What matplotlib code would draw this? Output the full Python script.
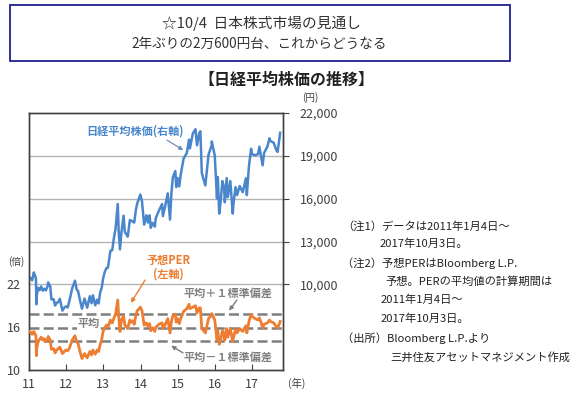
import pandas as pd
import matplotlib
matplotlib.use("Agg")
import matplotlib.pyplot as plt
from matplotlib.patches import Rectangle

plt.rcParams['font.family'] = ['Noto Sans CJK JP', 'DejaVu Sans']

# Nikkei 225 (right axis, yen)
nk_dates = [
    "2011-01-04", "2011-01-20", "2011-02-01", "2011-02-17", "2011-03-01", "2011-03-10",
    "2011-03-15", "2011-03-18", "2011-03-31", "2011-04-15", "2011-04-30", "2011-05-16",
    "2011-05-31", "2011-06-15", "2011-06-30", "2011-07-08", "2011-07-29", "2011-08-09",
    "2011-08-31", "2011-09-14", "2011-09-30", "2011-10-14", "2011-10-31", "2011-11-25",
    "2011-12-15", "2011-12-30", "2012-01-16", "2012-01-31", "2012-02-15", "2012-02-29",
    "2012-03-27", "2012-04-13", "2012-04-27", "2012-05-15", "2012-06-04", "2012-06-29",
    "2012-07-25", "2012-08-20", "2012-09-06", "2012-09-19", "2012-10-12", "2012-10-31",
    "2012-11-14", "2012-11-30", "2012-12-14", "2012-12-28", "2013-01-15", "2013-01-31",
    "2013-02-15", "2013-03-11", "2013-03-29", "2013-04-15", "2013-04-30", "2013-05-22",
    "2013-05-31", "2013-06-13", "2013-06-28", "2013-07-18", "2013-07-31", "2013-08-28",
    "2013-09-18", "2013-09-30", "2013-10-15", "2013-10-31", "2013-11-15", "2013-11-29",
    "2013-12-30", "2014-01-15", "2014-02-05", "2014-02-28", "2014-03-14", "2014-03-31",
    "2014-04-11", "2014-04-30", "2014-05-21", "2014-05-30", "2014-06-30", "2014-07-31",
    "2014-08-08", "2014-08-29", "2014-09-25", "2014-10-17", "2014-10-31", "2014-11-14",
    "2014-12-08", "2014-12-17", "2014-12-30", "2015-01-16", "2015-01-30", "2015-02-27",
    "2015-03-31", "2015-04-22", "2015-04-30", "2015-05-29", "2015-06-24", "2015-07-09",
    "2015-07-31", "2015-08-11", "2015-08-25", "2015-09-08", "2015-09-29", "2015-10-30",
    "2015-11-30", "2015-12-01", "2015-12-30", "2016-01-21", "2016-01-29", "2016-02-12",
    "2016-02-29", "2016-03-14", "2016-03-31", "2016-04-07", "2016-04-25", "2016-05-06",
    "2016-05-31", "2016-06-24", "2016-06-30", "2016-07-21", "2016-08-05", "2016-08-31",
    "2016-09-30", "2016-10-31", "2016-11-09", "2016-11-30", "2016-12-21", "2016-12-30",
    "2017-01-31", "2017-02-28", "2017-03-13", "2017-03-31", "2017-04-14", "2017-04-28",
    "2017-05-31", "2017-06-20", "2017-06-30", "2017-07-31", "2017-08-29", "2017-09-08",
    "2017-09-29", "2017-10-03",
]
nk_values = [
    10398, 10437, 10275, 10836, 10624, 10434,
    8605, 9207, 9755, 9591, 9850, 9558,
    9694, 9574, 9816, 10137, 9833, 8944,
    8955, 8518, 8700, 8748, 8988, 8160,
    8377, 8455, 8378, 8803, 9260, 9723,
    10255, 9638, 9521, 8900, 8296, 9007,
    8366, 9171, 8680, 9232, 8534, 8928,
    8664, 9446, 9737, 10395, 10879, 11139,
    11173, 12349, 12398, 13275, 13861, 15627,
    13775, 12445, 13677, 14808, 13668, 13338,
    14506, 14456, 14404, 14328, 15166, 15662,
    16291, 15809, 14180, 14841, 14327, 14828,
    13960, 14304, 14042, 14632, 15162, 15621,
    14778, 15425, 16374, 14532, 16414, 17490,
    17935, 16819, 17451, 16864, 17674, 18798,
    19207, 20133, 19520, 20563, 20868, 19737,
    20585, 20720, 17806, 17427, 16930, 19083,
    19747, 20012, 19034, 16017, 17518, 14953,
    16027, 17233, 16759, 15750, 17440, 16107,
    17235, 14952, 15576, 16810, 16254, 16887,
    16450, 17425, 16251, 18308, 19494, 19114,
    19041, 19119, 19634, 18909, 18335, 19197,
    19651, 20230, 20033, 19925, 19362, 19275,
    20356, 20614,
]

# forward PER (left axis, times) -- same dates
per_values = [
    15.4, 15.3, 15.0, 15.4, 15.0, 14.8,
    12.0, 13.0, 14.0, 14.3, 14.6, 14.2,
    14.4, 14.0, 14.2, 14.7, 14.2, 12.9,
    13.0, 12.4, 12.8, 13.0, 13.2, 12.3,
    12.6, 12.8, 12.7, 13.0, 13.6, 14.2,
    14.8, 14.0, 13.7, 12.6, 11.6, 12.3,
    11.7, 12.6, 12.1, 12.8, 12.2, 12.8,
    12.6, 13.6, 14.2, 15.4, 15.9, 16.3,
    16.0, 17.0, 16.6, 17.3, 17.8, 19.8,
    17.6, 15.4, 17.0, 17.6, 16.3, 15.8,
    17.0, 16.7, 16.9, 16.4, 17.6, 18.3,
    18.8, 18.3, 16.3, 16.6, 16.1, 16.5,
    15.5, 15.9, 15.4, 16.0, 16.4, 16.6,
    15.8, 16.3, 17.2, 15.2, 16.8, 17.6,
    17.8, 16.7, 17.2, 16.5, 17.2, 18.2,
    18.6, 19.2, 18.6, 18.8, 19.0, 18.0,
    18.7, 18.7, 15.8, 15.6, 15.2, 17.2,
    17.7, 17.9, 17.0, 14.3, 15.5, 13.6,
    14.4, 15.5, 15.1, 14.2, 15.8, 14.6,
    15.8, 14.0, 14.5, 15.7, 15.2, 15.8,
    15.4, 16.2, 15.2, 16.8, 17.8, 17.5,
    17.2, 17.0, 17.3, 16.6, 15.9, 16.4,
    16.6, 17.0, 16.8, 16.6, 16.0, 15.9,
    16.6, 16.8,
]

per_mean = 15.95
per_sd = 1.95

year_ticks = [2011, 2012, 2013, 2014, 2015, 2016, 2017]
year_labels = ["11", "12", "13", "14", "15", "16", "17"]
left_ticks = [10, 16, 22]
right_ticks = [10000, 13000, 16000, 19000, 22000]

notes = [
    (342, 226, "（注1）データは2011年1月4日～"),
    (380, 244, "2017年10月3日。"),
    (342, 263, "（注2）予想PERはBloomberg L.P."),
    (385, 282, "予想。PERの平均値の計算期間は"),
    (381, 300, "2011年1月4日～"),
    (381, 319, "2017年10月3日。"),
    (342, 338, "（出所）Bloomberg L.P.より"),
    (390, 357, "三井住友アセットマネジメント作成"),
]

d = pd.to_datetime(pd.Series(nk_dates))
t = d.dt.year + (d.dt.dayofyear - 1) / 365.0

W, H = 577, 396
BLUE = "#4A86CB"
ORANGE = "#ED7D31"
GRAY = "#7F7F7F"
DARK = "#404040"


def px(x, y):
    return x / W, 1 - y / H


fig = plt.figure(figsize=(W / 100, H / 100), dpi=100)

# header box
fig.patches.append(Rectangle(px(10, 61), 500 / W, 56 / H, transform=fig.transFigure,
                             fill=False, edgecolor="#1F1F8F", linewidth=1.3))
fig.text(*px(262, 23), "☆10/4  日本株式市場の見通し", ha="center", va="center",
         fontsize=10.6, color="#333333")
fig.text(*px(259, 44), "2年ぶりの2万600円台、これからどうなる", ha="center", va="center",
         fontsize=9.8, color="#333333")
fig.text(*px(286, 80), "【日経平均株価の推移】", ha="center", va="center",
         fontsize=11.5, fontweight="bold", color="#222222")

ax = fig.add_axes([29 / W, 1 - 370 / H, 254 / W, 257 / H])
ax2 = ax.twinx()

ax.set_xlim(2011, 2017.83)
ax.set_ylim(10, 46)
ax2.set_ylim(4000, 22000)

ax2.set_yticks(right_ticks)
ax2.set_yticklabels([f"{v:,}" for v in right_ticks])
for v in right_ticks[:-1]:
    ax2.axhline(v, color="#B5B5B5", linewidth=1, zorder=0)

ax.set_yticks(left_ticks)
ax.set_xticks(year_ticks)
ax.set_xticklabels(year_labels)

ax2.plot(t, nk_values, color=BLUE, linewidth=1.8, zorder=3)

for v in [per_mean + per_sd, per_mean, per_mean - per_sd]:
    ax.axhline(v, color=GRAY, linewidth=1.8, linestyle=(0, (4, 1.7)), zorder=2)
ax.plot(t, per_values, color=ORANGE, linewidth=2.0, zorder=4)

ax.set_zorder(ax2.get_zorder() + 1)
ax.patch.set_visible(False)

for a in (ax, ax2):
    for s in a.spines.values():
        s.set_color(DARK)
        s.set_linewidth(1)
ax.tick_params(axis="y", length=0, labelsize=9, labelcolor=DARK, pad=6)
ax.tick_params(axis="x", direction="in", length=4, color=DARK, labelsize=9,
               labelcolor=DARK, pad=6)
ax2.tick_params(axis="y", direction="out", length=4, color=DARK, labelsize=9,
                labelcolor=DARK, pad=8)

# annotations
ax.text(2013.85, 43.5, "日経平均株価(右軸)", ha="center", va="center", fontsize=8,
        fontweight="bold", color=BLUE)
ax.annotate("", xy=(2015.15, 40.8), xytext=(2014.71, 42.2),
            arrowprops=dict(arrowstyle="-|>", color="#6E8FB5", linewidth=0.9,
                            mutation_scale=6, shrinkA=0, shrinkB=0))
ax.text(2014.74, 24.4, "予想PER\n(左軸)", ha="center", va="center", fontsize=8,
        fontweight="bold", color=ORANGE, linespacing=1.1)
ax.annotate("", xy=(2013.74, 19.4), xytext=(2014.12, 22.6),
            arrowprops=dict(arrowstyle="-|>", color=ORANGE, linewidth=1,
                            mutation_scale=6, shrinkA=0, shrinkB=0))
ax.text(2016.35, 20.8, "平均＋１標準偏差", ha="center", va="center", fontsize=8,
        fontweight="bold", color=GRAY)
ax.annotate("", xy=(2016.38, 18.3), xytext=(2016.59, 19.8),
            arrowprops=dict(arrowstyle="-|>", color=GRAY, linewidth=1,
                            mutation_scale=6, shrinkA=0, shrinkB=0))
ax.text(2012.61, 16.5, "平均", ha="center", va="center", fontsize=8,
        fontweight="bold", color=GRAY,
        bbox=dict(facecolor="white", edgecolor="none", pad=0.3))
ax.text(2016.35, 11.8, "平均－１標準偏差", ha="center", va="center", fontsize=8,
        fontweight="bold", color=GRAY)
ax.annotate("", xy=(2014.82, 13.4), xytext=(2015.14, 12.4),
            arrowprops=dict(arrowstyle="-|>", color=GRAY, linewidth=1,
                            mutation_scale=6, shrinkA=0, shrinkB=0))

fig.text(*px(310, 98), "(円)", ha="center", va="center", fontsize=7, color=DARK)
fig.text(*px(16, 262), "(倍)", ha="center", va="center", fontsize=7, color=DARK)
fig.text(*px(297, 383), "(年)", ha="center", va="center", fontsize=7.5, color=DARK)

for x, y, s in notes:
    fig.text(*px(x, y), s, ha="left", va="center", fontsize=8.1, color="#222222")

fig.savefig("out.png", dpi=100)
